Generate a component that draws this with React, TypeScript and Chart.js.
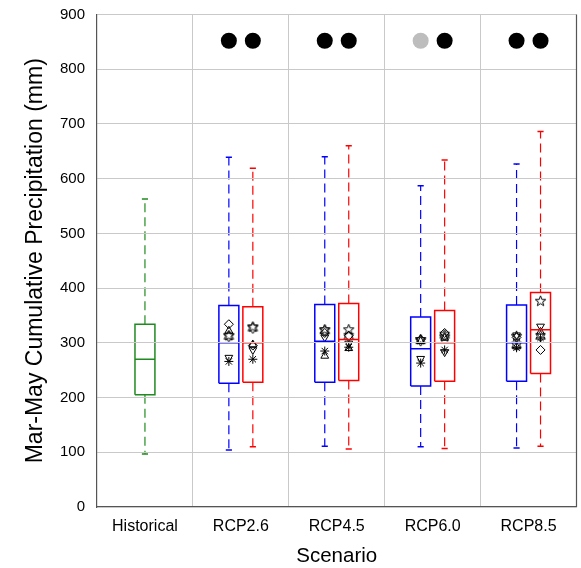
import React, { useEffect, useRef } from 'react';
import { Chart, registerables } from 'chart.js';

Chart.register(...registerables);

// ---------- data ----------
const scenarios = ['Historical', 'RCP2.6', 'RCP4.5', 'RCP6.0', 'RCP8.5'];
const yMin = 0;
const yMax = 900;
const yStep = 100;

// Historical box: [lower whisker, Q1, median, Q3, upper whisker]
const histStats = [97, 205, 270, 334, 563];

// Blue boxes (RCP2.6, RCP4.5, RCP6.0, RCP8.5)
const blueLow = [104, 111, 110, 108];
const blueQ1 = [226, 228, 221, 230];
const blueMed = [300, 303, 289, 300];
const blueQ3 = [368, 370, 347, 369];
const blueHigh = [639, 640, 587, 627];

// Red boxes
const redLow = [110, 106, 107, 111];
const redQ1 = [228, 231, 230, 244];
const redMed = [300, 306, 300, 324];
const redQ3 = [366, 372, 359, 392];
const redHigh = [619, 660, 634, 686];

// Individual model markers (blue)
const blueDiamond = [334, 318, 306, 310];
const blueTriUp = [322, 276, 303, 293];
const blueTriDown = [273, 310, 271, 314];
const bluePentagram = [313, 324, 306, 312];
const blueHexagram = [312, 322, 304, 296];
const blueAsterisk = [266, 285, 263, 291];

// Individual model markers (red)
const redDiamond = [295, 313, 318, 287];
const redTriUp = [297, 290, 309, 320];
const redTriDown = [287, 299, 283, 330];
const redPentagram = [329, 324, 311, 376];
const redHexagram = [327, 312, 314, 312];
const redAsterisk = [270, 292, 287, 309];

// Significance dots (true = significant / black, false = grey)
const blueSignificant = [true, true, false, true];
const redSignificant = [true, true, true, true];
const sigLevel = 852;

// ---------- styles ----------
const BLUE = '#0000ff';
const RED = '#ff0000';
const GREEN = '#1f8a1f';
const GRID = '#c9c9c9';
const AXIS = '#555555';
const FONT = '"Liberation Sans", Arial, Helvetica, sans-serif';
const BOX_HALF = 0.104;
const PAIR_OFFSET = 0.125;
const CAP_HALF = 0.032;
const DASH = [9, 5];
const W = 581;
const H = 568;

function starImage(points: number, outer: number, inner: number): HTMLCanvasElement {
  const size = Math.ceil(outer * 2 + 4);
  const c = document.createElement('canvas');
  c.width = size;
  c.height = size;
  const g = c.getContext('2d')!;
  const cx = size / 2;
  const cy = size / 2;
  g.beginPath();
  for (let i = 0; i < points * 2; i++) {
    const r = i % 2 === 0 ? outer : inner;
    const a = -Math.PI / 2 + (i * Math.PI) / points;
    const px = cx + r * Math.cos(a);
    const py = cy + r * Math.sin(a);
    if (i === 0) g.moveTo(px, py);
    else g.lineTo(px, py);
  }
  g.closePath();
  g.strokeStyle = '#000';
  g.lineWidth = 1;
  g.stroke();
  return c;
}

function line(data: { x: number; y: number }[], color: string, width: number, dash: number[] = []) {
  return {
    type: 'line' as const,
    data,
    borderColor: color,
    borderWidth: width,
    borderDash: dash,
    pointRadius: 0,
    pointHoverRadius: 0,
    fill: false,
    tension: 0,
    showLine: true,
  };
}

function boxDatasets(x: number, low: number, q1: number, med: number, q3: number, high: number, color: string) {
  const w = BOX_HALF;
  const c = CAP_HALF;
  return [
    line([{ x, y: q3 }, { x, y: high }], color, 1.2, DASH),
    line([{ x, y: q1 }, { x, y: low }], color, 1.2, DASH),
    line([{ x: x - c, y: high }, { x: x + c, y: high }], color, 1.5),
    line([{ x: x - c, y: low }, { x: x + c, y: low }], color, 1.5),
    line(
      [
        { x: x - w, y: q1 },
        { x: x + w, y: q1 },
        { x: x + w, y: q3 },
        { x: x - w, y: q3 },
        { x: x - w, y: q1 },
      ],
      color,
      1.5
    ),
    line([{ x: x - w, y: med }, { x: x + w, y: med }], color, 1.5),
  ];
}

function markerSet(values: number[], offset: number, style: any, radius: number, rotation = 0) {
  return {
    type: 'scatter' as const,
    data: values.map((v, i) => ({ x: i + 2 + offset, y: v })),
    pointStyle: style,
    pointRadius: radius,
    pointHoverRadius: radius,
    pointRotation: rotation,
    borderColor: '#000',
    backgroundColor: 'rgba(0,0,0,0)',
    borderWidth: 1,
  };
}

const frameRight = {
  id: 'frameRight',
  afterDraw(chart: any) {
    const { ctx, chartArea } = chart;
    ctx.save();
    ctx.strokeStyle = AXIS;
    ctx.lineWidth = 1.2;
    ctx.beginPath();
    ctx.moveTo(chartArea.right, chartArea.top);
    ctx.lineTo(chartArea.right, chartArea.bottom);
    ctx.stroke();
    ctx.restore();
  },
};

export default function App() {
  const ref = useRef<HTMLCanvasElement>(null);

  useEffect(() => {
    if (!ref.current) return;
    const pent = starImage(5, 5.5, 2.3);
    const hexa = starImage(6, 5.5, 3.2);

    const datasets: any[] = [];
    datasets.push(...boxDatasets(1, histStats[0], histStats[1], histStats[2], histStats[3], histStats[4], GREEN));
    for (let i = 0; i < 4; i++) {
      datasets.push(...boxDatasets(i + 2 - PAIR_OFFSET, blueLow[i], blueQ1[i], blueMed[i], blueQ3[i], blueHigh[i], BLUE));
      datasets.push(...boxDatasets(i + 2 + PAIR_OFFSET, redLow[i], redQ1[i], redMed[i], redQ3[i], redHigh[i], RED));
    }
    datasets.push(markerSet(blueDiamond, -PAIR_OFFSET, 'rectRot', 4.5));
    datasets.push(markerSet(blueTriUp, -PAIR_OFFSET, 'triangle', 4.5));
    datasets.push(markerSet(blueTriDown, -PAIR_OFFSET, 'triangle', 4.5, 180));
    datasets.push(markerSet(bluePentagram, -PAIR_OFFSET, pent, 5));
    datasets.push(markerSet(blueHexagram, -PAIR_OFFSET, hexa, 5));
    datasets.push(markerSet(blueAsterisk, -PAIR_OFFSET, 'star', 4.5));
    datasets.push(markerSet(redDiamond, PAIR_OFFSET, 'rectRot', 4.5));
    datasets.push(markerSet(redTriUp, PAIR_OFFSET, 'triangle', 4.5));
    datasets.push(markerSet(redTriDown, PAIR_OFFSET, 'triangle', 4.5, 180));
    datasets.push(markerSet(redPentagram, PAIR_OFFSET, pent, 5));
    datasets.push(markerSet(redHexagram, PAIR_OFFSET, hexa, 5));
    datasets.push(markerSet(redAsterisk, PAIR_OFFSET, 'star', 4.5));

    datasets.push({
      type: 'scatter',
      data: [
        ...blueSignificant.map((_, i) => ({ x: i + 2 - PAIR_OFFSET, y: sigLevel })),
        ...redSignificant.map((_, i) => ({ x: i + 2 + PAIR_OFFSET, y: sigLevel })),
      ],
      pointStyle: 'circle',
      pointRadius: 8,
      pointHoverRadius: 8,
      borderWidth: 0,
      backgroundColor: [
        ...blueSignificant.map((s) => (s ? '#000000' : '#bdbdbd')),
        ...redSignificant.map((s) => (s ? '#000000' : '#bdbdbd')),
      ],
    });

    const xTickValues = [1, 1.5, 2, 2.5, 3, 3.5, 4, 4.5, 5];

    const chart = new Chart(ref.current, {
      type: 'scatter',
      data: { datasets },
      plugins: [frameRight],
      options: {
        animation: false,
        responsive: false,
        devicePixelRatio: 1,
        events: [],
        layout: { autoPadding: false, padding: { top: 14.5, right: 4.5, bottom: 0, left: 0 } },
        plugins: { legend: { display: false }, tooltip: { enabled: false } },
        scales: {
          x: {
            type: 'linear',
            min: 0.5,
            max: 5.5,
            afterBuildTicks: (s: any) => {
              s.ticks = xTickValues.map((v) => ({ value: v }));
            },
            afterFit: (s: any) => {
              s.height = 61;
              s.paddingLeft = 0;
              s.paddingRight = 0;
            },
            grid: {
              color: (ctx: any) => (ctx.tick && Number.isInteger(ctx.tick.value) ? 'rgba(0,0,0,0)' : GRID),
              drawTicks: false,
              lineWidth: 1,
            },
            border: { display: true, color: AXIS, width: 1.2 },
            ticks: {
              autoSkip: false,
              maxRotation: 0,
              minRotation: 0,
              padding: 10,
              color: '#000',
              font: { family: FONT, size: 16 },
              callback: (v: any) => (Number.isInteger(v) ? scenarios[v - 1] : ''),
            },
            title: {
              display: true,
              text: 'Scenario',
              color: '#000',
              font: { family: FONT, size: 20.5, lineHeight: 1.2 },
              padding: { top: 0, bottom: -1 },
            },
          },
          y: {
            min: yMin,
            max: yMax,
            afterFit: (s: any) => {
              s.width = 97;
              s.paddingTop = 0;
              s.paddingBottom = 0;
            },
            grid: { color: GRID, drawTicks: false, lineWidth: 1, z: 1 },
            border: { display: true, color: AXIS, width: 1.2, z: 1 },
            ticks: {
              stepSize: yStep,
              padding: 12,
              color: '#000',
              font: { family: FONT, size: 15 },
            },
            title: {
              display: true,
              text: 'Mar-May Cumulative Precipitation (mm)',
              color: '#000',
              font: { family: FONT, size: 23, lineHeight: 1.2 },
              padding: { top: 21.5, bottom: 0 },
            },
          },
        },
      } as any,
    });
    return () => chart.destroy();
  }, []);

  return (
    <div style={{ position: 'absolute', left: 0, top: 0, width: W, height: H }}>
      <canvas ref={ref} width={W} height={H} style={{ display: 'block', width: W, height: H }} />
    </div>
  );
}
